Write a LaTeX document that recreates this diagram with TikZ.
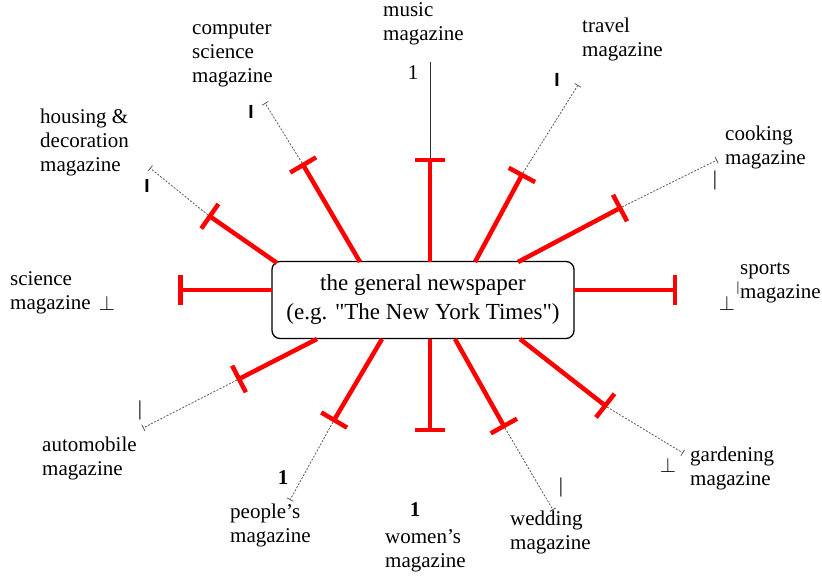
\documentclass[tikz,border=0pt]{standalone}
\usepackage{fontspec}
\setmainfont{Liberation Serif}
\newfontfamily\plainserif{Liberation Serif}
\newfontfamily\glyphsans{Liberation Sans}
\usetikzlibrary{arrows.meta}
\begin{document}
\begin{tikzpicture}[x=1pt,y=-1pt,
  lbl/.style={anchor=north west, align=left, inner sep=0pt, font=\fontsize{21}{24}\selectfont},
  spoke/.style={red, line width=4.5pt, -{Bar[width=30pt,line width=4.5pt]}},
  lead/.style={black!65, line width=0.8pt, dash pattern=on 2pt off 1.5pt, -{Bar[width=7pt,line width=0.8pt]}},
  glyph/.style={inner sep=0pt, font=\fontsize{21}{21}\selectfont},
  barglyph/.style={inner sep=0pt, font=\glyphsans\bfseries\fontsize{19}{19}\selectfont},
]
\useasboundingbox (0,0) rectangle (822,577);

% central node
\node[draw, fill=white, rounded corners=8pt, line width=1.3pt, minimum width=302pt,
      minimum height=77pt, align=center, inner sep=0pt,
      font=\plainserif\fontsize{23}{29}\selectfont] (np) at (423,300)
      {the general newspaper\\(e.g. "The New York Times")};

% spoke start points on the box border
\coordinate (sMus) at (430,262);
\coordinate (sCom) at (360,262);
\coordinate (sTra) at (475,262);
\coordinate (sCoo) at (518,262);
\coordinate (sSpo) at (574,290);
\coordinate (sSci) at (272,290);
\coordinate (sHou) at (277,263);
\coordinate (sAut) at (317,339);
\coordinate (sPeo) at (382,339);
\coordinate (sWom) at (430,339);
\coordinate (sWed) at (455,339);
\coordinate (sGar) at (520,339);

% T ends
\coordinate (tMus) at (430,158);
\coordinate (tCom) at (302,163);
\coordinate (tTra) at (523,173);
\coordinate (tCoo) at (622,207);
\coordinate (tSpo) at (677,290);
\coordinate (tSci) at (178,290);
\coordinate (tHou) at (208,215);
\coordinate (tAut) at (237,380);
\coordinate (tPeo) at (333,422);
\coordinate (tWom) at (430,432);
\coordinate (tWed) at (505,428);
\coordinate (tGar) at (607,407);

% lead ends
\coordinate (eMus) at (430,62);
\coordinate (eCom) at (265,103);
\coordinate (eTra) at (578,85);
\coordinate (eCoo) at (717,160);
\coordinate (eHou) at (150,168);
\coordinate (eAut) at (143,428);
\coordinate (ePeo) at (290,500);
\coordinate (eWed) at (553,510);
\coordinate (eGar) at (683,453);

% leads
\draw[black!80, line width=1pt] (tMus) -- (eMus);
\foreach \n in {Com,Tra,Coo,Hou,Aut,Peo,Wed,Gar}
  \draw[lead] (t\n) -- (e\n);

% red spokes
\foreach \n in {Mus,Com,Tra,Coo,Spo,Sci,Hou,Aut,Peo,Wom,Wed,Gar}
  \draw[spoke] (s\n) -- (t\n);

% labels (top of first line)
\node[lbl] (lMus) at (383,2) {music\\magazine};
\node[lbl] (lCom) at (192,22) {computer\\science\\magazine};
\node[lbl] (lTra) at (582,18) {travel\\magazine};
\node[lbl] (lHou) at (40,109) {housing \&\\decoration\\magazine};
\node[lbl] (lCoo) at (725,126) {cooking\\magazine};
\node[lbl] (lSci) at (10,271) {science\\magazine};
\node[lbl] (lSpo) at (740,262) {sports\\magazine};
\node[lbl] (lAut) at (42,437) {automobile\\magazine};
\node[lbl] (lPeo) at (230,504) {people's\\magazine};
\node[lbl] (lWom) at (385,529) {women's\\magazine};
\node[lbl] (lWed) at (510,511) {wedding\\magazine};
\node[lbl] (lGar) at (690,447) {gardening\\magazine};

% stray glyphs
\node[glyph] (gMus) at (413,73) {1};
\node[barglyph] (gCom) at (251,112) {I};
\node[barglyph] (gTra) at (557,80) {I};
\node[barglyph] (gHou) at (147,186) {I};
\node[glyph] (gCoo) at (715,180) {|};
\node[glyph] (gSpo) at (727,303) {$\perp$};
\node[glyph, font=\fontsize{14}{14}\selectfont] (gSpo2) at (738,288) {|};
\node[glyph] (gSci) at (107,303) {$\perp$};
\node[glyph] (gAut) at (140,410) {|};
\node[glyph, font=\bfseries\fontsize{21}{21}\selectfont] (gPeo) at (283,478) {1};
\node[glyph, font=\bfseries\fontsize{21}{21}\selectfont] (gWom) at (415,510) {1};
\node[glyph] (gWed) at (561,487) {|};
\node[glyph] (gGar) at (668,465) {$\perp$};
\end{tikzpicture}
\end{document}
